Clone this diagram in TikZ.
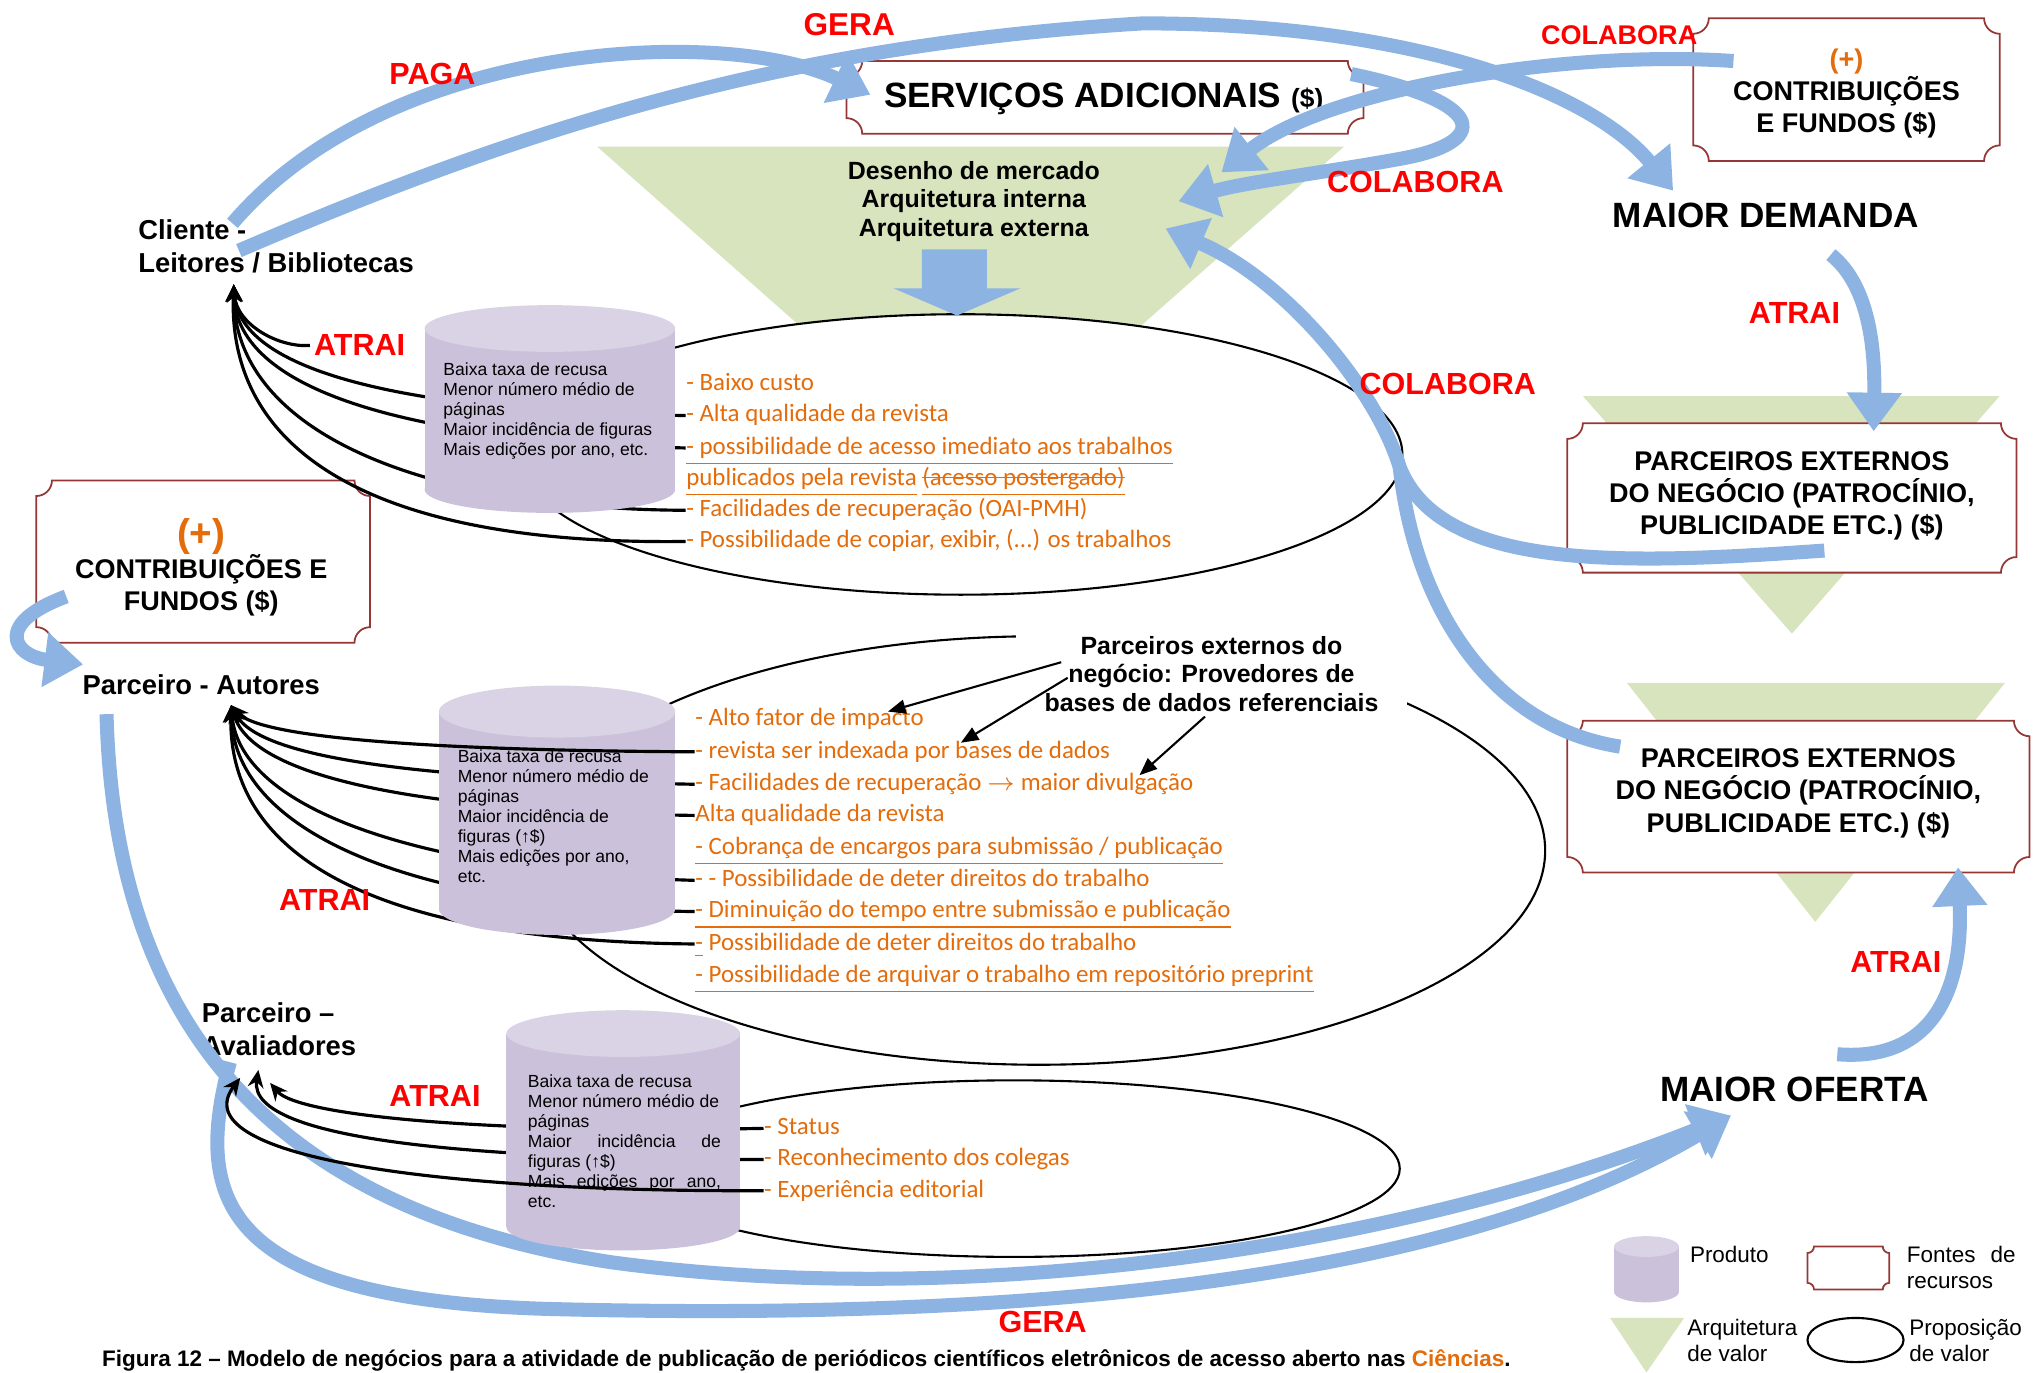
\documentclass[tikz,border=0pt]{standalone}
\usepackage{fontspec}
\setmainfont{Liberation Sans}
\newfontfamily\calib{Carlito}
\usepackage{tikz}
\usetikzlibrary{arrows.meta,calc,positioning}

\definecolor{azul}{HTML}{8DB3E2}
\definecolor{verde}{HTML}{D7E4BD}
\definecolor{vinho}{HTML}{953735}
\definecolor{lilas}{HTML}{CCC1DA}
\definecolor{lilasclaro}{HTML}{D9D3E5}
\definecolor{laranja}{HTML}{E46C0A}
\definecolor{vermelho}{HTML}{FF0000}

% sublinhado e riscado
\newcommand{\subl}[1]{\underline{#1}}
\newsavebox\caixaR
\newcommand{\riscado}[1]{\sbox\caixaR{#1}\rlap{\rule[0.28em]{\wd\caixaR}{0.5pt}}\usebox\caixaR}

% placa com cantos concavos (fontes de recursos)
\newcommand{\placa}[5][12]{%
  \pgfmathsetmacro\raio{#1*0.013}%
  \draw[vinho, line width=0.5pt, fill=white]
    (#2,#3+#1) arc[start angle=-90,end angle=0,radius=\raio cm]
    -- (#4-#1,#3) arc[start angle=180,end angle=270,radius=\raio cm]
    -- (#4,#5-#1) arc[start angle=90,end angle=180,radius=\raio cm]
    -- (#2+#1,#5) arc[start angle=0,end angle=90,radius=\raio cm] -- cycle;}

% cilindro (produto)
\newcommand{\cilindro}[5]{%
  \fill[lilas] (#1-#2,#3) rectangle (#1+#2,#4);
  \fill[lilas] (#1,#4) ellipse[x radius=#2, y radius=#5];
  \fill[lilasclaro] (#1,#3) ellipse[x radius=#2, y radius=#5];}

\begin{document}
\begin{tikzpicture}[x=0.013cm, y=-0.013cm,
  fluxo/.style={azul, line width=4pt, -{Triangle[length=11pt,width=15pt]}},
  fluxosem/.style={azul, line width=4pt},
  lig/.style={line width=0.9pt, -{Stealth[length=5pt,width=4.5pt]}},
  seta/.style={line width=0.6pt, -{Triangle[length=5pt,width=4pt]}},
  rotulo/.style={text=vermelho, font=\bfseries\fontsize{8.7}{10}\selectfont, inner sep=1pt},
  ator/.style={font=\bfseries\fontsize{7.8}{9.4}\selectfont, align=left, inner sep=0pt},
  grande/.style={font=\bfseries\fontsize{10}{12}\selectfont, inner sep=0pt},
  caixatxt/.style={font=\bfseries\fontsize{7.7}{9.2}\selectfont, align=center, inner sep=0pt},
  item/.style={text=laranja, font=\calib\fontsize{7.1}{8}\selectfont, anchor=west, inner sep=0pt, text height=5pt, text depth=1.4pt},
  cil/.style={font=\fontsize{5}{5.7}\selectfont, align=left, anchor=north west, inner sep=0pt},
  legtxt/.style={font=\fontsize{6.4}{7.4}\selectfont, anchor=west, inner sep=0pt, align=left},
]
\useasboundingbox (0,0) rectangle (1568,1057);

%Arquitetura de valor
\fill[verde] (460,113) -- (1035,113) -- (747,367) -- cycle;
\fill[verde] (1219,305) -- (1540,305) -- (1380,488) -- cycle;
\fill[verde] (1253,526) -- (1544,526) -- (1398,710) -- cycle;

%Proposicao de valor
\draw[line width=0.6pt, fill=white] (740,350) ellipse[x radius=340, y radius=108];
\draw[line width=0.6pt, fill=white] (800,655) ellipse[x radius=390, y radius=165];
\draw[line width=0.6pt, fill=white] (781,900) ellipse[x radius=297, y radius=68];

\fill[azul] (710,192) -- (760,192) -- (760,222) -- (786,222) -- (737,243) -- (688,222) -- (710,222) -- cycle;

%Fontes de recursos
\placa{652}{47}{1050}{103}
\node[grande] (srv) at (850,76) {SERVIÇOS ADICIONAIS {\fontsize{7.5}{9}\selectfont(\$)}};
\placa{1304}{14}{1540}{124}
\node[caixatxt] (cfTopo) at (1422,72) {{\color{laranja}(+)}\\CONTRIBUIÇÕES\\E FUNDOS (\$)};
\placa{28}{370}{285}{495}
\node[caixatxt] (cfEsq) at (155,437) {{\color{laranja}\fontsize{11}{12}\selectfont(+)}\\CONTRIBUIÇÕES E\\FUNDOS (\$)};
\placa{1207}{326}{1553}{441}
\node[caixatxt] (pe1) at (1380,382) {PARCEIROS EXTERNOS\\DO NEGÓCIO (PATROCÍNIO,\\PUBLICIDADE ETC.) (\$)};
\placa{1207}{555}{1563}{672}
\node[caixatxt] (pe2) at (1385,611) {PARCEIROS EXTERNOS\\DO NEGÓCIO (PATROCÍNIO,\\PUBLICIDADE ETC.) (\$)};

%Textos
\node[font=\bfseries\fontsize{7.1}{8.1}\selectfont, align=center, inner sep=0pt] (arq) at (750,155) {Desenho de mercado\\Arquitetura interna\\Arquitetura externa};
\node[ator, anchor=west] (cli) at (106,190) {Cliente -\\Leitores / Bibliotecas};
\node[ator] (autores) at (155,527) {Parceiro - Autores};
\node[ator, anchor=west] (aval) at (155,793) {Parceiro –\\Avaliadores};
\node[grande] (demanda) at (1360,166) {MAIOR DEMANDA};
\node[grande] (oferta) at (1382,839) {MAIOR OFERTA};
\node[font=\bfseries\fontsize{7.1}{8.1}\selectfont, align=center, fill=white, inner xsep=8pt, inner ysep=2pt] (prov) at (933,519) {Parceiros externos do\\negócio: Provedores de\\bases de dados referenciais};

\coordinate (cliPt) at (180,219);
\coordinate (autPt) at (178,543);
\coordinate (avPt1) at (185,830);
\coordinate (avPt2) at (199,824);
\coordinate (avPt3) at (208,834);

%Proposicao 1
\node[item] (c1a) at (528,296) {- Baixo custo};
\node[item] (c1b) at (528,320) {- Alta qualidade da revista};
\node[item] (c1c) at (528,345) {\subl{- possibilidade de acesso imediato aos trabalhos}};
\node[item] (c1d) at (528,369) {\subl{publicados pela revista} \subl{\riscado{(acesso postergado)}}};
\node[item] (c1e) at (528,393) {- Facilidades de recuperação (OAI-PMH)};
\node[item] (c1f) at (528,417) {- Possibilidade de copiar, exibir, (...) os trabalhos};

%Proposicao 2
\node[item] (c2a) at (535,554) {- Alto fator de impacto};
\node[item] (c2b) at (535,579) {- revista ser indexada por bases de dados};
\node[item] (c2c) at (535,604) {- Facilidades de recuperação $\rightarrow$ maior divulgação};
\node[item] (c2d) at (535,628) {Alta qualidade da revista};
\node[item] (c2e) at (535,653) {\subl{- Cobrança de encargos para submissão / publicação}};
\node[item] (c2f) at (535,678) {- - Possibilidade de deter direitos do trabalho};
\node[item] (c2g) at (535,702) {\subl{- Diminuição do tempo entre submissão e publicação}};
\node[item] (c2h) at (535,727) {\subl{-} Possibilidade de deter direitos do trabalho};
\node[item] (c2i) at (535,752) {\subl{- Possibilidade de arquivar o trabalho em repositório preprint}};

%Proposicao 3
\node[item] (c3a) at (588,869) {- Status};
\node[item] (c3b) at (588,893) {- Reconhecimento dos colegas};
\node[item] (c3c) at (588,917) {- Experiência editorial};

%Gera (baixo)
\draw[fluxo] ([shift={(19,23)}]autores.west) .. controls (88,780) and (200,930) .. (470,972) .. controls (750,1010) and (1080,960) .. ([shift={(55,10)}]oferta.south west);
\draw[fluxo] ([shift={(22,4)}]aval.south west) .. controls (150,920) and (165,1000) .. (420,1008) .. controls (800,1018) and (1120,985) .. ([shift={(55,10)}]oferta.south west);

%Ligacoes por tras dos cilindros
\node[rotulo] (atr1) at (277,266) {ATRAI};
\draw[lig] (atr1.west) .. controls (215,268) and (182,250) .. (cliPt);
\draw[lig] (c1b.west) .. controls (330,318) and (185,290) .. (cliPt);
\draw[lig] (c1c.west) .. controls (330,340) and (182,305) .. (cliPt);
\draw[lig] (c1e.west) .. controls (330,392) and (180,335) .. (cliPt);
\draw[lig] (c1f.west) .. controls (300,420) and (175,355) .. (cliPt);

\draw[lig] (c2c.west) .. controls (330,600) and (200,585) .. (autPt);
\draw[lig] (c2d.west) .. controls (330,625) and (195,600) .. (autPt);
\draw[lig] (c2f.west) .. controls (330,672) and (185,625) .. (autPt);
\draw[lig] (c2g.west) .. controls (330,700) and (180,645) .. (autPt);
\draw[lig] (c2h.west) .. controls (300,725) and (175,665) .. (autPt);

\draw[lig] (c3a.west) .. controls (380,873) and (230,860) .. (avPt3);
\draw[lig] (c3b.west) .. controls (380,893) and (190,880) .. (avPt2);

%Produto
\cilindro{423.5}{96.5}{253}{377}{18}
\node[cil] (prod1) at (341,279) {Baixa taxa de recusa\\Menor número médio de\\páginas\\Maior incidência de figuras\\Mais edições por ano, etc.};
\cilindro{429}{91}{548}{700}{20}
\node[cil] (prod2) at (352,577) {Baixa taxa de recusa\\Menor número médio de\\páginas\\Maior incidência de\\figuras (↑\$)\\Mais edições por ano,\\etc.};
\cilindro{480}{90}{796}{945}{18}
\node[cil, text width=55pt, align=justify] (prod3) at (406,827) {Baixa taxa de recusa\\Menor número médio de\\páginas\\Maior incidência de\linebreak figuras (↑\$)\\Mais edições por ano,\linebreak etc.};

%Ligacoes por cima
\draw[lig] (c2b.west) .. controls (330,578) and (200,568) .. (autPt);
\draw[lig] (c3c.west) .. controls (330,918) and (140,890) .. (avPt1);

%Fluxos
\draw[fluxo] ([shift={(73,-18)}]cli.west) .. controls (300,30) and (560,20) .. ([shift={(-10,-3)}]srv.west);
\draw[fluxo] ([shift={(78,3)}]cli.west) .. controls (400,100) and (600,35) .. (880,18) .. controls (1100,18) and (1230,75) .. ([shift={(47,-9)}]demanda.north west);
\draw[fluxo] ([shift={(-87,-25)}]cfTopo.center) .. controls (1200,38) and (1020,70) .. ([shift={(-79,44)}]srv.south east);
\draw[fluxo] ([shift={(21,-19)}]srv.east) .. controls (1150,80) and (1145,110) .. (1080,122) .. controls (1020,133) and (960,140) .. ([shift={(60,0)}]arq.east);
\draw[fluxo] ([shift={(25,42)}]pe1.center) .. controls (1250,435) and (1110,440) .. (1078,360) .. controls (1060,300) and (990,215) .. ([shift={(50,21)}]arq.east);
\draw[fluxosem] ([shift={(4,-36)}]pe2.west) .. controls (1150,560) and (1090,470) .. (1078,360);
\draw[fluxo] ([shift={(50,20)}]demanda.south) .. controls (1440,220) and (1444,270) .. ([shift={(63,-15)}]pe1.north);
\draw[fluxo] ([shift={(33,-17)}]oferta.north) .. controls (1490,818) and (1512,760) .. ([shift={(123,57)}]pe2.center);
\draw[fluxo] ([shift={(-104,-16)}]cfEsq.south) .. controls (-5,480) and (10,505) .. ([shift={(1,-7)}]autores.north west);

%Rotulos
\node[rotulo, font=\bfseries\fontsize{9}{10}\selectfont] (gera1) at (654,19) {GERA};
\node[rotulo] (paga) at (333,57) {PAGA};
\node[rotulo, font=\bfseries\fontsize{7.7}{9}\selectfont] (col1) at (1247,27) {COLABORA};
\node[rotulo] (col2) at (1090,140) {COLABORA};
\node[rotulo] (col3) at (1115,296) {COLABORA};
\node[rotulo] (atr2) at (1382,241) {ATRAI};
\node[rotulo] (atr3) at (250,693) {ATRAI};
\node[rotulo] (atr4) at (335,844) {ATRAI};
\node[rotulo] (atr5) at (1460,741) {ATRAI};
\node[rotulo] (gera2) at (803,1018) {GERA};

%Provedores
\draw[seta] ([shift={(35,-9)}]prov.west) -- ([shift={(-28,-6)}]c2a.east);
\draw[seta] ([shift={(40,3)}]prov.west) -- ([shift={(205,-7)}]c2b.west);
\draw[seta] ([shift={(-5,-2)}]prov.south) -- ([shift={(-42,-7)}]c2c.east);

%Legenda
\cilindro{1268}{25}{960}{995}{8}
\node[legtxt] (legProd) at (1301,966) {Produto};
\placa[5]{1392}{960}{1455}{993}
\node[legtxt, text width=31pt, align=justify] (legFont) at (1468,976) {Fontes de\linebreak recursos};
\fill[verde] (1240,1015) -- (1297,1015) -- (1268,1057) -- cycle;
\node[legtxt] (legArq) at (1299,1032) {Arquitetura\\de valor};
\draw[line width=0.6pt] (1429,1032) ellipse[x radius=37, y radius=17];
\node[legtxt] (legProp) at (1470,1032) {Proposição\\de valor};

\node[font=\bfseries\fontsize{6.4}{7.5}\selectfont, inner sep=0pt] (figura) at (621,1048) {Figura 12 – Modelo de negócios para a atividade de publicação de periódicos científicos eletrônicos de acesso aberto nas {\color{laranja}Ciências}.};

\end{tikzpicture}
\end{document}
